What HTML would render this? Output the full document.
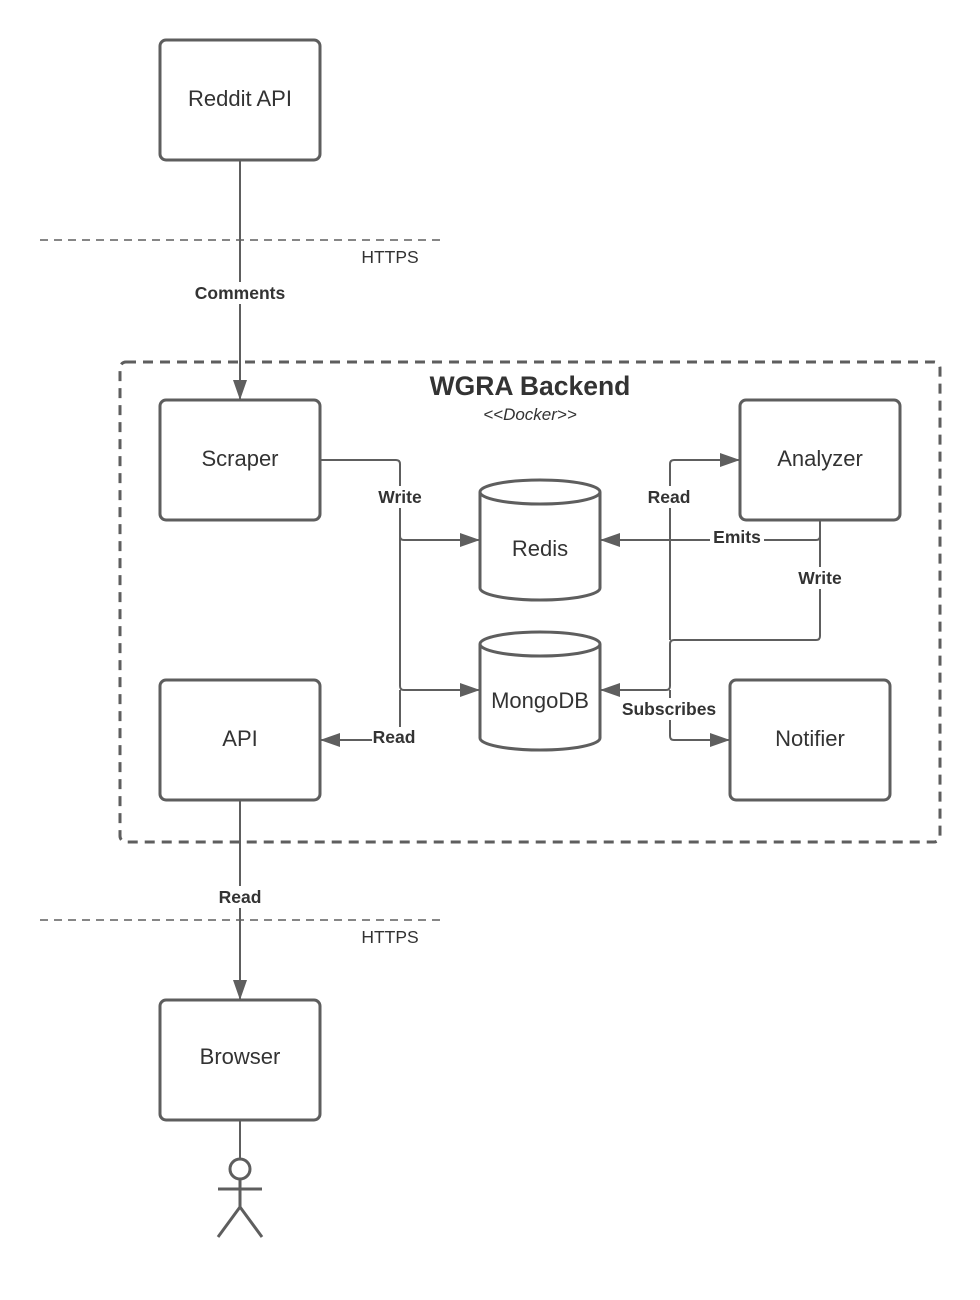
<!DOCTYPE html>
<html><head><meta charset="utf-8"><style>
html,body{margin:0;padding:0;background:#fff;width:980px;height:1300px;overflow:hidden}
svg{display:block}
text{font-family:"Liberation Sans",sans-serif;fill:#333}
.b{font-size:22px;text-anchor:middle}
.l{font-size:17.5px;font-weight:bold;text-anchor:middle}
</style></head><body>
<svg width="980" height="1300" viewBox="0 0 980 1300">
<defs>
<marker id="a2" markerWidth="20" markerHeight="14" refX="19" refY="7" orient="auto" markerUnits="userSpaceOnUse" viewBox="0 0 20 14">
<path d="M0,0 L20,7 L0,14 z" fill="#5e5e5e"/></marker>
</defs>
<g fill="none" stroke="#5e5e5e">
<line x1="40" y1="240" x2="440" y2="240" stroke-width="1.5" stroke-dasharray="8,6"/>
<line x1="40" y1="920" x2="440" y2="920" stroke-width="1.5" stroke-dasharray="8,6"/>
<rect x="120" y="362" width="820" height="480" rx="6" stroke-width="3" stroke-dasharray="10,7"/>
<g stroke-width="3">
<rect x="160" y="40" width="160" height="120" rx="6"/>
<rect x="160" y="400" width="160" height="120" rx="6"/>
<rect x="740" y="400" width="160" height="120" rx="6"/>
<rect x="160" y="680" width="160" height="120" rx="6"/>
<rect x="730" y="680" width="160" height="120" rx="6"/>
<rect x="160" y="1000" width="160" height="120" rx="6"/>
<path d="M480,492 L480,588 A60,12 0 0 0 600,588 L600,492 A60,12 0 0 0 480,492 A60,12 0 0 0 600,492" fill="#fff"/>
<path d="M480,644 L480,738 A60,12 0 0 0 600,738 L600,644 A60,12 0 0 0 480,644 A60,12 0 0 0 600,644" fill="#fff"/>
</g>
<g stroke-width="2">
<line x1="240" y1="160" x2="240" y2="399" marker-end="url(#a2)"/>
<line x1="240" y1="800" x2="240" y2="999" marker-end="url(#a2)"/>
<line x1="240" y1="1120" x2="240" y2="1160"/>
<path d="M320,460 H396 Q400,460 400,464 V686 Q400,690 404,690 H479" marker-end="url(#a2)"/>
<path d="M400,536 Q400,540 404,540 H479" marker-end="url(#a2)"/>
<path d="M400,690 V736 Q400,740 396,740 H321" marker-end="url(#a2)"/>
<path d="M670,540 V464 Q670,460 674,460 H739" marker-end="url(#a2)"/>
<path d="M820,520 V536 Q820,540 816,540 H601" marker-end="url(#a2)"/>
<path d="M820,520 V636 Q820,640 816,640 H674 Q670,640 670,644 V686 Q670,690 666,690 H601" marker-end="url(#a2)"/>
<path d="M670,540 V640"/>
<path d="M670,690 V736 Q670,740 674,740 H729" marker-end="url(#a2)"/>
</g>
<g stroke-width="3">
<circle cx="240" cy="1169" r="10" fill="#fff"/>
<line x1="240" y1="1179" x2="240" y2="1207"/>
<line x1="218" y1="1189" x2="262" y2="1189"/>
<line x1="240" y1="1207" x2="218" y2="1237"/>
<line x1="240" y1="1207" x2="262" y2="1237"/>
</g>
</g>
<g fill="#fff">
<rect x="190" y="282" width="100" height="22"/>
<rect x="374" y="486" width="52" height="22"/>
<rect x="644" y="486" width="52" height="22"/>
<rect x="710" y="527" width="54" height="20"/>
<rect x="794" y="567" width="52" height="22"/>
<rect x="616" y="698" width="106" height="22"/>
<rect x="372" y="727" width="46" height="20"/>
<rect x="214" y="886" width="52" height="22"/>
</g>
<text class="b" x="240" y="106">Reddit API</text>
<text class="b" x="240" y="466">Scraper</text>
<text class="b" x="820" y="466">Analyzer</text>
<text class="b" x="240" y="746">API</text>
<text class="b" x="810" y="746">Notifier</text>
<text class="b" x="240" y="1064">Browser</text>
<text class="b" x="540" y="556">Redis</text>
<text class="b" x="540" y="708">MongoDB</text>
<text x="530" y="395" style="font-size:26.5px;font-weight:bold;text-anchor:middle">WGRA Backend</text>
<text x="530" y="420" style="font-size:17px;font-style:italic;text-anchor:middle">&lt;&lt;Docker&gt;&gt;</text>
<text x="390" y="263" style="font-size:17.5px;text-anchor:middle">HTTPS</text>
<text x="390" y="943" style="font-size:17.5px;text-anchor:middle">HTTPS</text>
<text class="l" x="240" y="299">Comments</text>
<text class="l" x="400" y="503">Write</text>
<text class="l" x="669" y="503">Read</text>
<text class="l" x="737" y="543">Emits</text>
<text class="l" x="820" y="584">Write</text>
<text class="l" x="669" y="715">Subscribes</text>
<text class="l" x="394" y="743">Read</text>
<text class="l" x="240" y="903">Read</text>
</svg>
</body></html>
